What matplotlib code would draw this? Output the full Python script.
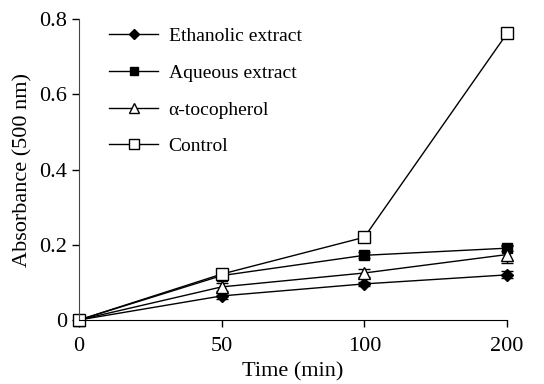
import numpy as np
import matplotlib
matplotlib.use("Agg")
import matplotlib.pyplot as plt

plt.rcParams['font.family'] = ['Liberation Serif', 'DejaVu Serif']

# データ
times = ["0", "50", "100", "200"]
ethanolic = [0.0, 0.064, 0.096, 0.120]
ethanolic_err = [0.0, 0.008, 0.006, 0.009]
aqueous = [0.0, 0.118, 0.172, 0.191]
aqueous_err = [0.0, 0.005, 0.008, 0.008]
tocopherol = [0.0, 0.088, 0.125, 0.174]
tocopherol_err = [0.0, 0.010, 0.010, 0.022]
control = [0.0, 0.122, 0.220, 0.762]
control_err = [0.0, 0.005, 0.012, 0.005]

x = np.arange(len(times))

fig = plt.figure(figsize=(5.44, 3.84), dpi=100)
ax = fig.add_axes([0.145, 0.1667, 0.787, 0.7833])

series = [
    ("Ethanolic extract", ethanolic, ethanolic_err, dict(marker='D', ms=6.5, mfc='black')),
    ("Aqueous extract", aqueous, aqueous_err, dict(marker='s', ms=7, mfc='black')),
    ("α-tocopherol", tocopherol, tocopherol_err, dict(marker='^', ms=9, mfc='white')),
    ("Control", control, control_err, dict(marker='s', ms=8, mfc='white')),
]

for label, vals, err, st in series:
    ax.errorbar(x, vals, yerr=err, color='black', lw=1, mec='black', mew=1,
                capsize=4, elinewidth=1, label=label, clip_on=False, **st)

ax.set_xlim(0, 3)
ax.set_ylim(0, 0.8)
ax.set_xticks(x)
ax.set_xticklabels(times)
ax.set_yticks([0, 0.2, 0.4, 0.6, 0.8])
ax.set_yticklabels(["0", "0.2", "0.4", "0.6", "0.8"])
ax.tick_params(labelsize=16, length=5, width=1, direction='out')
ax.tick_params(axis='x', pad=7)
for s in ['top', 'right']:
    ax.spines[s].set_visible(False)
ax.spines['left'].set_color('#444444')

ax.set_xlabel("Time (min)", fontsize=16, labelpad=5)
ax.set_ylabel("Absorbance (500 nm)", fontsize=16, labelpad=5)

h, l = ax.get_legend_handles_labels()
h = [hh[0] for hh in h]
ax.legend(h, l, loc='upper left', bbox_to_anchor=(0.03, 1.03), frameon=False,
          fontsize=14, handlelength=2.5, labelspacing=0.98, handletextpad=0.55,
          markerscale=0.85)

plt.savefig("out.png", dpi=100)
